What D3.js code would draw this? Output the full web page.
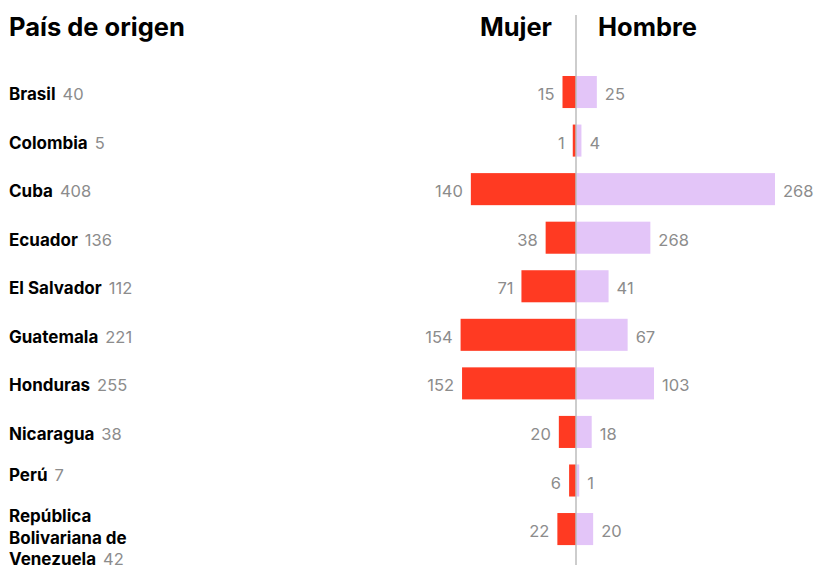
<!DOCTYPE html>
<html>
<head>
<meta charset="utf-8">
<script src="https://cdn.jsdelivr.net/npm/d3@7"></script>
<style>
  body { margin: 0; background: #fff; }
  text { font-family: Inter, "Noto Sans", sans-serif; }
</style>
</head>
<body>
<div id="chart"></div>
<script>
// data
const paises = ["Brasil", "Colombia", "Cuba", "Ecuador", "El Salvador", "Guatemala",
  "Honduras", "Nicaragua", "Perú", "República Bolivariana de Venezuela"]
const etiquetas = [["Brasil"], ["Colombia"], ["Cuba"], ["Ecuador"], ["El Salvador"], ["Guatemala"],
  ["Honduras"], ["Nicaragua"], ["Perú"], ["República", "Bolivariana de", "Venezuela"]]
const totales = [40, 5, 408, 136, 112, 221, 255, 38, 7, 42]
const mujer = [15, 1, 140, 38, 71, 154, 152, 20, 6, 22]
const hombre = [25, 4, 268, 98, 41, 67, 103, 18, 1, 20]
// the printed label for Ecuador reads 268 in the original
const hombreTexto = ["25", "4", "268", "268", "41", "67", "103", "18", "1", "20"]

const width = 817, height = 565
const axisX = 576
const rojo = "#ff3a22", lila = "#e3c5f8", gris = "#8c8c8c"

const svg = d3.select("#chart").append("svg")
  .attr("width", width)
  .attr("height", height)

const y = d3.scaleBand()
  .domain(paises)
  .range([67.74, 553.34])
  .paddingInner(0.34)
  .paddingOuter(0.17)

// bars keep a small minimum so that 1 still shows
const x = d3.scaleLinear()
  .domain([0, 268])
  .range([2.5, 199])

const rows = paises.map((p, i) => ({
  pais: p,
  lineas: etiquetas[i],
  total: totales[i],
  m: mujer[i],
  h: hombre[i],
  hText: hombreTexto[i]
}))

// headings
svg.append("text")
  .attr("x", 9).attr("y", 36)
  .attr("font-size", 25.5).attr("font-weight", 700)
  .attr("fill", "#000")
  .text("País de origen")

svg.append("text")
  .attr("x", axisX - 24).attr("y", 36)
  .attr("text-anchor", "end")
  .attr("font-size", 25.5).attr("font-weight", 700)
  .text("Mujer")

svg.append("text")
  .attr("x", axisX + 22).attr("y", 36)
  .attr("font-size", 25.5).attr("font-weight", 700)
  .text("Hombre")

// bars
const row = svg.append("g")
  .selectAll("g")
  .data(rows)
  .join("g")

row.append("rect")
  .attr("x", d => axisX - x(d.m))
  .attr("y", d => y(d.pais))
  .attr("width", d => x(d.m))
  .attr("height", y.bandwidth())
  .attr("fill", rojo)

row.append("rect")
  .attr("x", axisX)
  .attr("y", d => y(d.pais))
  .attr("width", d => x(d.h))
  .attr("height", y.bandwidth())
  .attr("fill", lila)

row.append("text")
  .attr("x", d => axisX - x(d.m) - 8)
  .attr("y", d => y(d.pais) + y.bandwidth() / 2 + 8)
  .attr("text-anchor", "end")
  .attr("font-size", 16.5)
  .attr("fill", gris)
  .text(d => d.m)

row.append("text")
  .attr("x", d => axisX + x(d.h) + 8)
  .attr("y", d => y(d.pais) + y.bandwidth() / 2 + 8)
  .attr("font-size", 16.5)
  .attr("fill", gris)
  .text(d => d.hText)

// country labels
const lineH = 21.5
const label = row.append("text")
  .attr("x", 9)
  .attr("y", d => {
    const c = y(d.pais) + y.bandwidth() / 2
    if (d.lineas.length > 1) return c - 7
    // Perú sits a bit higher in the original
    return d.pais === "Perú" ? c : c + 8
  })
  .attr("font-size", 17)

label.each(function (d) {
  const t = d3.select(this)
  d.lineas.forEach((l, i) => {
    t.append("tspan")
      .attr("x", 9)
      .attr("dy", i === 0 ? 0 : lineH)
      .attr("font-weight", 700)
      .attr("fill", "#000")
      .text(l)
  })
  t.append("tspan")
    .attr("dx", 7)
    .attr("font-weight", 400)
    .attr("fill", gris)
    .attr("font-size", 16.5)
    .text(d.total)
})

// center line
svg.append("line")
  .attr("x1", axisX).attr("x2", axisX)
  .attr("y1", 15).attr("y2", height)
  .attr("stroke", "#bcbcbc")
  .attr("stroke-width", 1.5)
</script>
</body>
</html>
